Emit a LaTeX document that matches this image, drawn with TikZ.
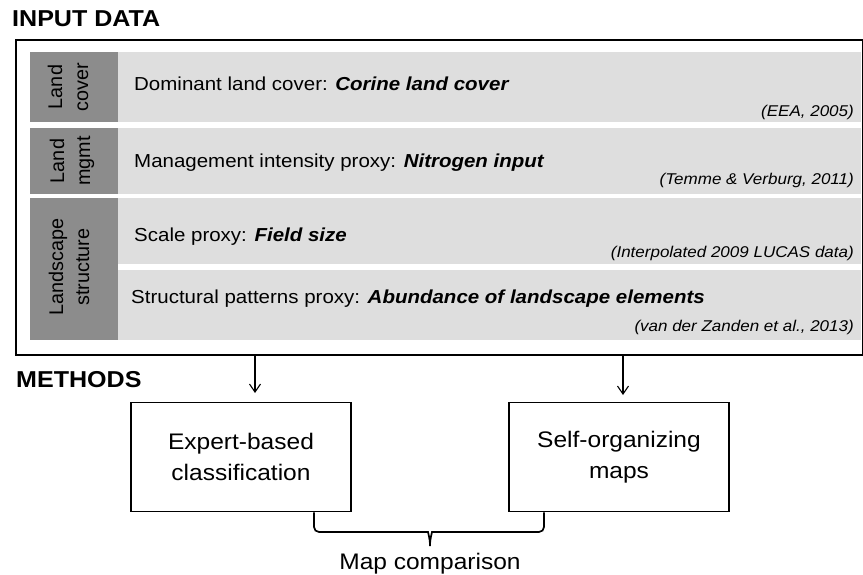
\documentclass[tikz,border=0pt]{standalone}
\usepackage{fontspec}
\setmainfont{Liberation Sans}[FakeStretch=1.09]
\newfontfamily\sidefont{Liberation Sans}
\usetikzlibrary{arrows.meta}
\definecolor{bandgray}{RGB}{222,222,222}
\definecolor{sidegray}{RGB}{140,140,140}

\begin{document}
\begin{tikzpicture}[x=1pt,y=-1pt]
\tikzstyle{header} = [
	font=\fontsize{23}{27}\selectfont\bfseries,
	anchor=base west,
	inner sep=0pt
];
\tikzstyle{band} = [
	fill=bandgray, %light grey row
	anchor=north west,
	minimum width=743,
	inner sep=0pt
];
\tikzstyle{sidebox} = [
	fill=sidegray, %dark grey column
	anchor=north west,
	minimum width=88,
	inner sep=0pt
];
\tikzstyle{sidelabel} = [
	rotate=90,
	align=center,
	font=\sidefont\fontsize{19.8}{26}\selectfont,
	inner sep=0pt
];
\tikzstyle{proxy} = [
	font=\fontsize{18.8}{22}\selectfont,
	anchor=base west,
	inner sep=0pt
];
\tikzstyle{source} = [
	font=\fontsize{15.6}{18}\selectfont\itshape,
	anchor=base east,
	inner sep=0pt
];
\tikzstyle{method} = [
	draw,
	line width=1.7pt,
	minimum width=220,
	minimum height=109,
	align=center,
	font=\fontsize{22.5}{31}\selectfont
];
\tikzstyle{feed} = [
	-{Straight Barb[length=8pt,width=11pt]},
	line width=1.1pt
];

\useasboundingbox (0,0) rectangle (863,575);

%input data
\node[header](inputtitle) at (12,27) {INPUT DATA};
\node[draw, line width=2pt, anchor=north west, inner sep=0pt,
	minimum width=847, minimum height=315](inputbox) at (15,39) {};

\node[band, minimum height=70](bcover) at (118,52) {};
\node[band, minimum height=66](bmgmt) at (118,128) {};
\node[band, minimum height=66](bscale) at (118,198) {};
\node[band, minimum height=70](bpattern) at (118,270) {};

\node[sidebox, minimum height=70](fcover) at (30,52) {};
\node[sidebox, minimum height=66](fmgmt) at (30,128) {};
\node[sidebox, minimum height=142](fstruct) at (30,198) {};

\node[sidelabel](lcover) at (68,87) {Land\\cover};
\node[sidelabel](lmgmt) at (72,161) {Land\\mgmt};
\node[sidelabel](lstruct) at (69,267) {Landscape\\structure};

\node[proxy](tcover) at (134,91) {Dominant land cover: \textbf{\textit{Corine land cover}}};
\node[source](scover) at (854,117) {(EEA, 2005)};
\node[proxy](tmgmt) at (134,168) {Management intensity proxy: \textbf{\textit{Nitrogen input}}};
\node[source](smgmt) at (854,185) {(Temme \& Verburg, 2011)};
\node[proxy](tscale) at (134,242) {Scale proxy: \textbf{\textit{Field size}}};
\node[source](sscale) at (854,258) {(Interpolated 2009 LUCAS data)};
\node[proxy](tpattern) at (131,303) {Structural patterns proxy: \textbf{\textit{Abundance of landscape elements}}};
\node[source](spattern) at (854,331) {(van der Zanden et al., 2013)};

%methods
\node[header](methodtitle) at (16,387) {METHODS};
\node[method](expert) at (241,457) {Expert-based\\classification};
\node[method](selforg) at (619,457) {Self-organizing\\maps};

\coordinate (expertin) at (255,393);
\coordinate (selforgin) at (623,395);
\draw[feed] (inputbox.south -| expertin) -- (expertin);
\draw[feed] (inputbox.south -| selforgin) -- (selforgin);

%map comparison
\coordinate (braceleft) at (314,532);
\coordinate (braceright) at (544,532);
\coordinate (bracetip) at (430,549);
\draw[line width=1.7pt, rounded corners=5pt]
	(braceleft |- expert.south) -- (braceleft) -- (423,532)
	.. controls (428,532) and (430,540) .. (bracetip)
	.. controls (430,540) and (432,532) .. (437,532)
	-- (braceright) -- (braceright |- selforg.south);
\node[font=\fontsize{22.5}{26}\selectfont, anchor=base, inner sep=0pt](compare) at (430,569) {Map comparison};

\end{tikzpicture}
\end{document}
